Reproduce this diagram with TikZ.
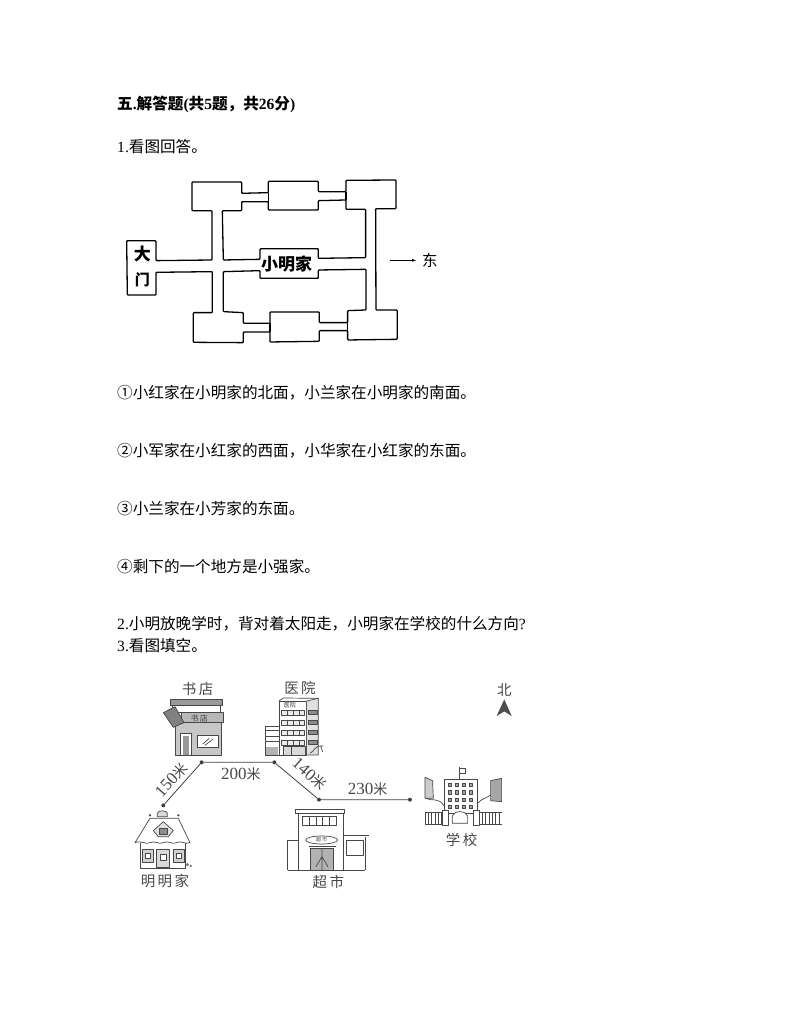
\documentclass[tikz,border=0pt]{standalone}
\usepackage{fontspec}
\setmainfont{Liberation Serif}
\newfontfamily\cjk{Noto Sans CJK SC}
\newcommand{\zh}[1]{{\cjk #1}}
\newcommand{\mi}{{\cjk\fontsize{14}{16}\selectfont 米}}
\usetikzlibrary{positioning}
\tikzset{
  textline/.style={anchor=west,inner sep=0pt,font=\fontsize{15.6}{18}\selectfont},
  planlabel/.style={inner sep=0pt,font=\fontsize{17}{20}\selectfont\bfseries},
  maplabel/.style={inner sep=0pt,text=black!72,font=\fontsize{14.5}{16}\selectfont},
  distlabel/.style={inner sep=0pt,text=black!72,font=\fontsize{17}{20}\selectfont},
  stop/.style={circle,fill=black!75,inner sep=0pt,minimum size=4pt},
  planline/.style={line width=1.3pt,line join=round,rounded corners=.8pt},
  sketch/.style={draw=black!72,line width=.7pt,line join=round},
}
\begin{document}
\begin{tikzpicture}[x=1pt,y=-1pt]
\useasboundingbox (0,0) rectangle (794,1028);
% text
\node[textline,font=\fontsize{15.6}{18}\selectfont\bfseries] (title) at (117,104) {\zh{五}.\zh{解答题}(\zh{共}5\zh{题，共}26\zh{分})};
\node[textline] (q1) at (117,147) {1.\zh{看图回答。}};
\node[textline] (clue1) at (117,393) {\zh{①小红家在小明家的北面，小兰家在小明家的南面。}};
\node[textline] (clue2) at (117,451) {\zh{②小军家在小红家的西面，小华家在小红家的东面。}};
\node[textline] (clue3) at (117,509) {\zh{③小兰家在小芳家的东面。}};
\node[textline] (clue4) at (117,567) {\zh{④剩下的一个地方是小强家。}};
\node[textline] (q2) at (117,624) {2.\zh{小明放晚学时，背对着太阳走，小明家在学校的什么方向}?};
\node[textline] (q3) at (117,646) {3.\zh{看图填空。}};
% plan
\begin{scope}[shift={(110,90)},x=.3333pt,y=-.3333pt]
\draw[planline] (50,452) -- (138,452) -- (138,512) -- (306,510) -- (306,362) -- (246,362) -- (246,276) -- (395,276) -- (395,310) -- (475,308) -- (475,274) -- (625,274) -- (625,305) -- (708,305) -- (708,271) -- (858,270) -- (858,356) -- (797,356) -- (798,660) -- (862,660) -- (862,748) -- (713,750) -- (713,722) -- (628,722) -- (628,754) -- (480,756) -- (480,726) -- (400,726) -- (400,758) -- (250,757) -- (250,668) -- (307,668) -- (307,545) -- (138,547) -- (138,615) -- (52,615) -- cycle;
\draw[planline] (337,362) -- (395,362) -- (395,335) -- (475,335) -- (475,360) -- (625,360) -- (625,332) -- (708,330) -- (708,358) -- (767,358) -- (767,503) -- (625,505) -- (625,476) -- (450,476) -- (450,508) -- (340,510) -- cycle;
\draw[planline] (340,545) -- (450,542) -- (450,565) -- (625,565) -- (625,540) -- (768,538) -- (768,660) -- (713,662) -- (713,698) -- (628,698) -- (628,666) -- (480,666) -- (480,700) -- (400,700) -- (400,668) -- (340,665) -- cycle;
\draw[planline] (475,308) -- (475,335) (708,305) -- (708,330) (480,700) -- (480,726) (713,698) -- (713,722);
\node[planlabel] (gatea) at (97,491) {\zh{大}};
\node[planlabel,font=\fontsize{15}{18}\selectfont\bfseries] (gateb) at (97,568) {\zh{门}};
\node[planlabel] (home) at (530,522) {\zh{小明家}};
\node[planlabel,font=\fontsize{15.5}{18}\selectfont] (east) at (960,513) {\zh{东}};
\coordinate (eastfrom) at (840,511);
\draw[-latex,shorten >=6pt] (eastfrom) -- (east.west |- eastfrom);
\end{scope}
% map
\begin{scope}[shift={(110,670)},x=.3333pt,y=-.3333pt]
\node[stop] (a) at (160,406) {};
\node[stop] (b) at (275,277) {};
\node[stop] (c) at (493,277) {};
\node[stop] (d) at (627,389) {};
\node[stop] (e) at (900,389) {};
\draw[line width=.8pt,black!75] (a) -- (b) -- (c) -- (d) -- (e);
\node[distlabel,rotate=48] (d1) at (184,330) {150\mi};
\node[distlabel] (d2) at (393,312) {200\mi};
\node[distlabel,rotate=-42] (d3) at (598,312) {140\mi};
\node[distlabel] (d4) at (773,358) {230\mi};
\node[maplabel] (shop) at (263,57) {\zh{书\,店}};
\node[maplabel] (hosp) at (570,55) {\zh{医\,院}};
\node[maplabel] (north) at (1183,60) {\zh{北}};
\node[maplabel] (mingjia) at (165,633) {\zh{明\,明\,家}};
\node[maplabel] (market) at (655,635) {\zh{超\,市}};
\node[maplabel] (school) at (1055,510) {\zh{学\,校}};
\fill[black!70] (1183,88) -- (1160,138) -- (1183,124) -- (1205,138) -- cycle;
% book shop
\filldraw[sketch,fill=black!22] (195,158) rectangle (335,255);
\draw[sketch] (188,105) rectangle (332,128);
\filldraw[sketch,fill=black!40] (182,87) rectangle (338,105);
\filldraw[sketch,fill=black!28] (215,128) rectangle (340,158);
\filldraw[sketch,fill=black!50] (160,128) -- (195,110) -- (222,158) -- (190,172) -- cycle;
\filldraw[sketch,fill=white] (210,190) rectangle (243,255);
\fill[black!40] (218,198) rectangle (237,255);
\filldraw[sketch,fill=white] (262,195) rectangle (325,232);
\draw[sketch] (278,222) -- (298,205) (285,226) -- (308,208);
\node[inner sep=0pt,text=black!75,font=\fontsize{8}{9}\selectfont] (shopsign) at (268,144) {\zh{书\,店}};
% hospital
\filldraw[sketch,fill=white] (507,93) -- (590,93) -- (590,255) -- (507,255) -- cycle;
\filldraw[sketch,fill=black!12] (590,93) -- (625,85) -- (625,255) -- (590,255) -- cycle;
\draw[sketch] (507,93) -- (520,84) -- (625,85);
\foreach \y in {122,152,182,212} {
  \draw[sketch,line width=1pt,fill=black!8] (515,\y) rectangle (585,\y+14);
  \foreach \x in {532,549,567} \draw[sketch] (\x,\y) -- (\x,\y+14);
  \filldraw[sketch,fill=black!45] (596,\y) rectangle (622,\y+12);
}
\filldraw[sketch,fill=black!15] (520,228) rectangle (585,255);
\draw[sketch] (545,228) -- (545,255);
\filldraw[sketch,fill=white] (465,168) rectangle (507,255);
\foreach \y in {182,198,214} \draw[sketch] (465,\y) -- (507,\y);
\fill[black!30] (468,230) rectangle (504,255);
\draw[sketch] (600,250) .. controls (615,245) and (610,225) .. (640,228) (632,228) -- (638,245);
\node[inner sep=0pt,text=black!75,font=\fontsize{6}{7}\selectfont] (hospsign) at (540,107) {\zh{医院}};
% house
\draw[sketch] (92,520) -- (92,595) -- (225,595) -- (225,520);
\filldraw[sketch,fill=white] (120,445) -- (205,445) -- (240,518) .. controls (225,525) and (215,510) .. (200,518) .. controls (185,525) and (175,510) .. (160,518) .. controls (145,525) and (135,510) .. (120,518) .. controls (105,525) and (95,510) .. (75,518) -- cycle;
\filldraw[sketch,fill=black!12] (160,455) -- (190,482) -- (175,500) -- (145,500) -- (130,482) -- cycle;
\filldraw[sketch,fill=black!45] (148,475) rectangle (172,492);
\filldraw[sketch,fill=black!15] (142,430) .. controls (142,420) and (172,420) .. (172,430) -- (172,440) -- (142,440) -- cycle;
\fill[black!65] (120,436) circle (4) (205,436) circle (4);
\foreach \x in {97,190} {
  \filldraw[sketch,line width=1pt,fill=black!18] (\x,540) rectangle (\x+33,578);
  \filldraw[sketch,fill=white] (\x+8,550) rectangle (\x+25,566);
}
\filldraw[sketch,line width=1pt,fill=black!15] (140,540) rectangle (180,592);
\filldraw[sketch,fill=white] (150,552) rectangle (170,570);
\fill[black!55] (232,584) circle (5) (242,588) circle (4);
% supermarket
\filldraw[sketch,fill=white] (565,430) rectangle (700,600);
\draw[sketch,line width=1pt] (558,420) rectangle (705,430);
\draw[sketch,line width=1pt] (578,440) rectangle (680,468);
\foreach \x in {598,618,638,658} \draw[sketch] (\x,440) -- (\x,468);
\draw[sketch] (635,510) ellipse (48 and 12);
\node[inner sep=0pt,text=black!75,font=\fontsize{5}{6}\selectfont] (marketsign) at (635,510) {\zh{超\,市}};
\filldraw[sketch,fill=black!30] (602,535) rectangle (670,600);
\draw[sketch,line width=1pt] (597,530) -- (677,530);
\draw[sketch] (636,535) -- (636,600) (636,560) -- (618,590) (636,560) -- (654,590);
\draw[sketch] (533,600) -- (533,512) -- (565,512) (533,600) -- (565,600);
\draw[sketch] (700,600) -- (765,600) (765,600) -- (765,502);
\draw[sketch,line width=1pt] (700,498) -- (778,498);
\draw[sketch,line width=1pt] (710,512) rectangle (762,558);
% school
\filldraw[sketch,fill=white] (1003,328) rectangle (1103,430);
\draw[sketch] (1048,328) -- (1048,292);
\draw[sketch] (1048,294) rectangle (1066,310);
\foreach \x in {1015,1036,1057,1078} \foreach \y in {340,362,384,406}
  \filldraw[sketch,fill=black!35] (\x,\y) rectangle (\x+9,\y+10);
\filldraw[sketch,fill=black!20] (945,322) -- (968,332) -- (970,385) -- (945,385) -- cycle;
\filldraw[sketch,fill=black!35] (1142,332) -- (1175,325) -- (1175,395) -- (1142,392) -- cycle;
\draw[sketch] (948,385) .. controls (965,395) and (985,380) .. (1003,408) (1103,400) .. controls (1115,385) and (1130,385) .. (1142,375);
\foreach \x in {945,955,...,1005} \draw[sketch] (\x,430) -- (\x,465);
\foreach \x in {1107,1117,...,1175} \draw[sketch] (\x,430) -- (\x,465);
\draw[sketch,line width=1pt] (945,428) -- (1015,428) (945,465) -- (1015,465) (1105,428) -- (1175,428) (1105,465) -- (1175,465);
\filldraw[sketch,fill=white] (997,420) rectangle (1014,465);
\filldraw[sketch,fill=white] (1090,420) rectangle (1107,465);
\filldraw[sketch,fill=white] (1027,460) -- (1027,438) .. controls (1035,420) and (1065,420) .. (1073,438) -- (1073,460) -- cycle;
\end{scope}
\end{tikzpicture}
\end{document}
